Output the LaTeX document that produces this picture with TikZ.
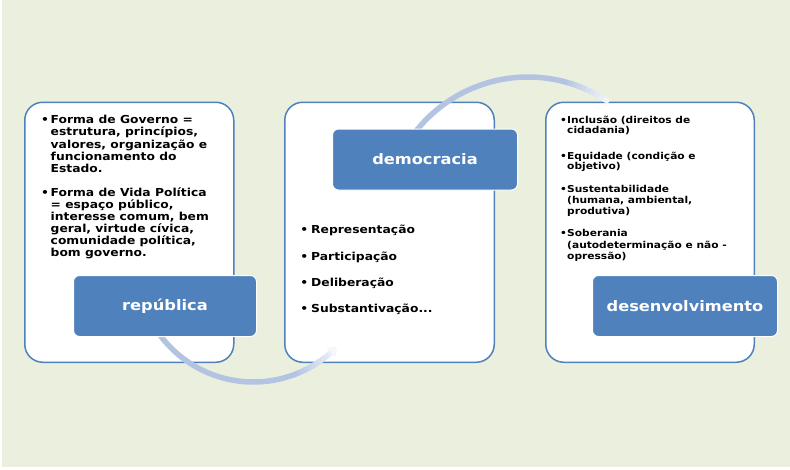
\documentclass[tikz,border=0pt]{standalone}
\usepackage{fontspec}
\newfontfamily\vbf{DejaVu Sans}[FakeStretch=1.12]
\usetikzlibrary{arrows.meta}
\definecolor{bg}{HTML}{EBF0DE}
\definecolor{boxblue}{HTML}{4F81BD}
\definecolor{labblue}{HTML}{4F81BD}
\definecolor{arcc}{HTML}{B3C4E2}
\tikzset{
  outerbox/.style={draw=boxblue, line width=1.5pt, fill=white, rounded corners=18pt, anchor=north west, minimum height=260pt},
  labelbox/.style={draw=white, line width=1pt, fill=labblue, rounded corners=6pt, text=white, anchor=north west, minimum height=61pt, inner sep=0pt, font=\vbf\bfseries\fontsize{14.5}{16}\selectfont},
  tbig/.style={anchor=base west, inner sep=0pt, font=\vbf\bfseries\fontsize{11}{12}\selectfont},
  bbig/.style={anchor=base, inner sep=0pt, font=\vbf\bfseries\fontsize{11}{12}\selectfont},
  tsmall/.style={anchor=base west, inner sep=0pt, font=\vbf\bfseries\fontsize{9.5}{10.5}\selectfont},
  bsmall/.style={anchor=base, inner sep=0pt, font=\vbf\bfseries\fontsize{9.5}{10.5}\selectfont},
  arcline/.style={line width=5.5pt, draw=arcc}
}
\begin{document}
\begin{tikzpicture}[x=1pt,y=-1pt]
\useasboundingbox (0,0) rectangle (790,469);
\fill[white] (0,0) rectangle (790,469);
\fill[bg] (2,0) rectangle (790,467);

% outer boxes
\node[outerbox, minimum width=209pt] (box1) at (24,101.5) {};
\node[outerbox, minimum width=209.5pt] (box2) at (284,101.5) {};
\node[outerbox, minimum width=208.5pt] (box3) at (545,101.5) {};

% lower arc (república -> democracia)
\draw[arcline] plot[domain=205:290.5, samples=60] ({253.4+116.5*cos(\x)},{265.5-116.5*sin(\x)});
\foreach \i in {0,1,2,3,4,5,6,7,8,9,10,11}{
  \pgfmathsetmacro\aa{290+2*\i}
  \pgfmathsetmacro\bb{\aa+2.4}
  \pgfmathtruncatemacro\pp{100-7*\i}
  \draw[arcline, draw=arcc!\pp!white] plot[domain=\aa:\bb, samples=4] ({253.4+116.5*cos(\x)},{265.5-116.5*sin(\x)});
}
\draw[arcline, draw=arcc!14!white, -{Triangle[length=8pt,width=13pt]}] plot[domain=313.5:315.5, samples=3] ({253.4+116.5*cos(\x)},{265.5-116.5*sin(\x)});

% upper arc (democracia -> desenvolvimento)
\draw[arcline] plot[domain=142:75.5, samples=60] ({528+143*cos(\x)},{220-143*sin(\x)});
\foreach \i in {0,1,2,3,4,5,6,7,8,9}{
  \pgfmathsetmacro\aa{76-2*\i}
  \pgfmathsetmacro\bb{\aa-2.4}
  \pgfmathtruncatemacro\pp{100-9*\i}
  \draw[arcline, draw=arcc!\pp!white] plot[domain=\aa:\bb, samples=4] ({528+143*cos(\x)},{220-143*sin(\x)});
}

% labels
\node[labelbox, minimum width=183pt] (rep) at (73,275) {república};
\node[labelbox, minimum width=185pt] (dem) at (332,128.5) {democracia};
\node[labelbox, minimum width=185pt] (des) at (592,275) {desenvolvimento};

% box 1 text
\node[bbig] (b1p1) at (45,123.8) {•};
\node[tbig] (b1a1) at (50.5,123.8) {Forma de Governo =};
\node[tbig] (b1a2) at (50.5,135.9) {estrutura, princípios,};
\node[tbig] (b1a3) at (50.5,148) {valores, organização e};
\node[tbig] (b1a4) at (50.5,160.1) {funcionamento do};
\node[tbig] (b1a5) at (50.5,172.2) {Estado.};
\node[bbig] (b1p2) at (45,196.5) {•};
\node[tbig] (b1b1) at (50.5,196.5) {Forma de Vida Política};
\node[tbig] (b1b2) at (50.5,208.4) {= espaço público,};
\node[tbig] (b1b3) at (50.5,220.3) {interesse comum, bem};
\node[tbig] (b1b4) at (50.5,232.2) {geral, virtude cívica,};
\node[tbig] (b1b5) at (50.5,244.1) {comunidade política,};
\node[tbig] (b1b6) at (50.5,256) {bom governo.};

% box 2 text
\node[bbig] (b2p1) at (304.3,233.8) {•};
\node[tbig] (b2t1) at (311,233.8) {Representação};
\node[bbig] (b2p2) at (304.3,260) {•};
\node[tbig] (b2t2) at (311,260) {Participação};
\node[bbig] (b2p3) at (304.3,286.5) {•};
\node[tbig] (b2t3) at (311,286.5) {Deliberação};
\node[bbig] (b2p4) at (304.3,312.6) {•};
\node[tbig] (b2t4) at (311,312.6) {Substantivação...};

% box 3 text
\node[bsmall] (b3p1) at (563.5,123.3) {•};
\node[tsmall] (b3a1) at (567,123.3) {Inclusão (direitos de};
\node[tsmall] (b3a2) at (567,133.8) {cidadania)};
\node[bsmall] (b3p2) at (563.5,159) {•};
\node[tsmall] (b3b1) at (567,159) {Equidade (condição e};
\node[tsmall] (b3b2) at (567,169.5) {objetivo)};
\node[bsmall] (b3p3) at (563.5,192.6) {•};
\node[tsmall] (b3c1) at (567,192.6) {Sustentabilidade};
\node[tsmall] (b3c2) at (567,203.4) {(humana, ambiental,};
\node[tsmall] (b3c3) at (567,214.2) {produtiva)};
\node[bsmall] (b3p4) at (563.5,236.8) {•};
\node[tsmall] (b3d1) at (567,236.8) {Soberania};
\node[tsmall] (b3d2) at (567,248) {(autodeterminação e não -};
\node[tsmall] (b3d3) at (567,259.2) {opressão)};
\end{tikzpicture}
\end{document}
